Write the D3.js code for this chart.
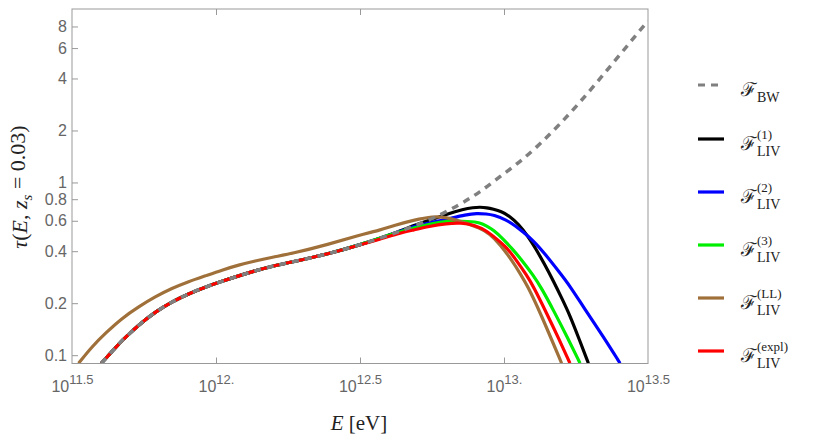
<!DOCTYPE html>
<html>
<head>
<meta charset="utf-8">
<script src="https://cdn.jsdelivr.net/npm/d3@7"></script>
<style>
  body { margin: 0; background: #fff; }
  .tick text { font-family: "Liberation Sans", Arial, sans-serif; font-size: 16px; fill: #666; }
  .tick line { stroke: #999; }
  .math { font-family: "Liberation Serif", "DejaVu Serif", serif; fill: #222; }
  .script { font-family: "DejaVu Serif", serif; fill: #222; }
</style>
</head>
<body>
<svg id="chart" width="814" height="443"></svg>
<script>
// ticks
var xTicks = [11.5, 12, 12.5, 13, 13.5];
var xTickExp = ["11.5", "12.", "12.5", "13.", "13.5"];
var yTicks = [0.1, 0.2, 0.4, 0.6, 0.8, 1, 2, 4, 6, 8];
var yTickLabels = ["0.1", "0.2", "0.4", "0.6", "0.8", "1", "2", "4", "6", "8"];

// shared low energy part (log10 E, tau)
var baseLogE = [11.602, 11.639, 11.674, 11.732, 11.789, 11.847, 11.905, 11.963, 12.021, 12.079, 12.136, 12.194, 12.268, 12.384, 12.5];
var baseTau  = [0.0898, 0.105, 0.122, 0.150, 0.178, 0.204, 0.227, 0.248, 0.268, 0.288, 0.308, 0.327, 0.348, 0.383, 0.435];

// F_BW tail
var bwLogE = [12.616, 12.674, 12.755, 12.847, 12.917, 12.986, 13.056, 13.125, 13.194, 13.264, 13.333, 13.403, 13.478, 13.5];
var bwTau  = [0.505, 0.548, 0.618, 0.745, 0.88, 1.081, 1.318, 1.667, 2.173, 2.917, 3.98, 5.50, 7.82, 8.6];

// LIV (1)
var liv1LogE = [12.616, 12.7, 12.755, 12.8, 12.859, 12.893, 12.917, 12.94, 12.963, 12.99, 13.02, 13.05, 13.08, 13.11, 13.14, 13.171, 13.2, 13.229, 13.26, 13.293];
var liv1Tau  = [0.505, 0.575, 0.615, 0.655, 0.70, 0.716, 0.72, 0.715, 0.70, 0.68, 0.638, 0.575, 0.497, 0.415, 0.338, 0.27, 0.215, 0.17, 0.125, 0.0898];

// LIV (2)
var liv2LogE = [12.616, 12.7, 12.755, 12.8, 12.87, 12.905, 12.94, 12.963, 13.009, 13.04, 13.067, 13.102, 13.14, 13.194, 13.23, 13.275, 13.345, 13.403];
var liv2Tau  = [0.505, 0.565, 0.59, 0.612, 0.652, 0.663, 0.657, 0.649, 0.607, 0.56, 0.515, 0.46, 0.39, 0.30, 0.25, 0.191, 0.128, 0.0898];

// LIV (3)
var liv3LogE = [12.616, 12.7, 12.755, 12.8, 12.882, 12.917, 12.94, 12.963, 12.998, 13.03, 13.056, 13.102, 13.131, 13.171, 13.22, 13.264];
var liv3Tau  = [0.505, 0.555, 0.58, 0.60, 0.595, 0.585, 0.56, 0.531, 0.47, 0.41, 0.365, 0.29, 0.243, 0.183, 0.127, 0.0898];

// LIV (LL)
var livLLLogE = [11.523, 11.569, 11.616, 11.674, 11.732, 11.789, 11.847, 11.905, 11.963, 12.021, 12.079, 12.136, 12.194, 12.268, 12.384, 12.5, 12.57, 12.62, 12.685, 12.755, 12.8, 12.85, 12.917, 12.95, 12.986, 13.032, 13.056, 13.08, 13.125, 13.2];
var livLLTau  = [0.0898, 0.112, 0.134, 0.164, 0.191, 0.218, 0.244, 0.267, 0.288, 0.311, 0.333, 0.351, 0.369, 0.389, 0.435, 0.497, 0.53, 0.565, 0.605, 0.638, 0.627, 0.595, 0.545, 0.505, 0.44, 0.345, 0.297, 0.255, 0.178, 0.0898];

// LIV (expl)
var livExLogE = [12.57, 12.63, 12.685, 12.74, 12.8, 12.85, 12.9, 12.94, 12.975, 13.01, 13.04, 13.079, 13.102, 13.148, 13.19, 13.229];
var livExTau  = [0.47, 0.505, 0.53, 0.557, 0.578, 0.585, 0.565, 0.525, 0.47, 0.42, 0.36, 0.29, 0.25, 0.175, 0.125, 0.0898];

function pts(a, b) { return a.map(function(d, i) { return [d, b[i]]; }); }
var base = pts(baseLogE, baseTau);

var series = [
  { key: "(1)", color: "#000000", data: base.concat(pts(liv1LogE, liv1Tau)) },
  { key: "(2)", color: "#0000ff", data: base.concat(pts(liv2LogE, liv2Tau)) },
  { key: "(3)", color: "#00ee00", data: base.concat(pts(liv3LogE, liv3Tau)) },
  { key: "(LL)", color: "#a0703a", data: pts(livLLLogE, livLLTau) },
  { key: "(expl)", color: "#ff0000", data: base.concat(pts(livExLogE, livExTau)) }
];
var bw = base.concat(pts(bwLogE, bwTau));

// plot box (pixels)
var pLeft = 72, pRight = 648, pTop = 9, pBottom = 363.5;
var svg = d3.select("#chart");

var x = d3.scaleLinear().domain([11.5, 13.5]).range([pLeft, pRight]);
var y = d3.scaleLog().domain([0.0895, 10.1]).range([pBottom, pTop]);

svg.append("clipPath").attr("id", "clip")
  .append("rect").attr("x", pLeft).attr("y", pTop)
  .attr("width", pRight - pLeft).attr("height", pBottom - pTop);

var line = d3.line()
  .x(function(d) { return x(d[0]); })
  .y(function(d) { return y(d[1]); })
  .curve(d3.curveBasis);

var plot = svg.append("g").attr("clip-path", "url(#clip)");

plot.selectAll("path.liv")
  .data(series)
  .enter()
  .append("path")
  .attr("class", "liv")
  .attr("d", function(d) { return line(d.data); })
  .attr("fill", "none")
  .attr("stroke", function(d) { return d.color; })
  .attr("stroke-width", 3.2)
  .attr("stroke-linejoin", "round");

plot.append("path")
  .attr("d", line(bw))
  .attr("fill", "none")
  .attr("stroke", "#808080")
  .attr("stroke-width", 3.5)
  .attr("stroke-dasharray", "7,6");

// frame
svg.append("rect")
  .attr("x", pLeft).attr("y", pTop)
  .attr("width", pRight - pLeft).attr("height", pBottom - pTop)
  .attr("fill", "none").attr("stroke", "#999").attr("stroke-width", 1);

// left axis
var gy = svg.append("g")
  .attr("transform", "translate(" + pLeft + ",0)")
  .call(d3.axisLeft(y).tickValues(yTicks).tickSize(-6).tickPadding(5)
    .tickFormat(function(d, i) { return yTickLabels[i]; }));
gy.select(".domain").remove();

// bottom axis
var gx = svg.append("g")
  .attr("transform", "translate(0," + pBottom + ")")
  .call(d3.axisBottom(x).tickValues(xTicks).tickSize(-6).tickPadding(17)
    .tickFormat(function() { return ""; }));
gx.select(".domain").remove();
gx.selectAll(".tick").filter(function(d) { return d === 11.5 || d === 13.5; }).select("line").remove();
gx.selectAll(".tick text").each(function(d, i) {
  var t = d3.select(this);
  t.append("tspan").text("10");
  t.append("tspan").attr("dy", "-0.6em").attr("font-size", "13px").text(xTickExp[i]);
});

// top ticks
var gt = svg.append("g")
  .attr("transform", "translate(0," + pTop + ")")
  .call(d3.axisTop(x).tickValues([12, 12.5, 13]).tickSize(-6).tickFormat(""));
gt.select(".domain").remove();

// axis labels
var yl = svg.append("text").attr("class", "math")
  .attr("transform", "translate(27,187) rotate(-90)")
  .attr("text-anchor", "middle").attr("font-size", "22px");
yl.append("tspan").attr("font-style", "italic").text("τ");
yl.append("tspan").text("(");
yl.append("tspan").attr("font-style", "italic").text("E");
yl.append("tspan").text(", ");
yl.append("tspan").attr("font-style", "italic").text("z");
yl.append("tspan").attr("font-style", "italic").attr("font-size", "15px").attr("dy", "0.3em").text("s");
yl.append("tspan").attr("dy", "-0.3em").text(" = 0.03)");

var xl = svg.append("text").attr("class", "math")
  .attr("x", 359).attr("y", 430)
  .attr("text-anchor", "middle").attr("font-size", "21px");
xl.append("tspan").attr("font-style", "italic").text("E");
xl.append("tspan").text(" [eV]");

// legend
var legendItems = [{ sub: "BW", sup: "", color: "#808080", dash: "7,6" }].concat(
  series.map(function(s) { return { sub: "LIV", sup: s.key, color: s.color, dash: null }; }));
var legendY = [85, 139, 192, 245, 298, 351];

var lg = svg.selectAll("g.legend")
  .data(legendItems)
  .enter()
  .append("g")
  .attr("class", "legend")
  .attr("transform", function(d, i) { return "translate(0," + legendY[i] + ")"; });

lg.append("line")
  .attr("x1", 698).attr("x2", 724)
  .attr("stroke", function(d) { return d.color; })
  .attr("stroke-width", 3.2)
  .attr("stroke-dasharray", function(d) { return d.dash; });

lg.append("text").attr("class", "script")
  .attr("x", 741).attr("y", 11).attr("font-size", "19px")
  .text("ℱ");
lg.append("text").attr("class", "math")
  .attr("x", 757).attr("y", 17).attr("font-size", "14px")
  .text(function(d) { return d.sub; });
lg.append("text").attr("class", "math")
  .attr("x", 757).attr("y", 0).attr("font-size", "13px")
  .text(function(d) { return d.sup; });
</script>
</body>
</html>
